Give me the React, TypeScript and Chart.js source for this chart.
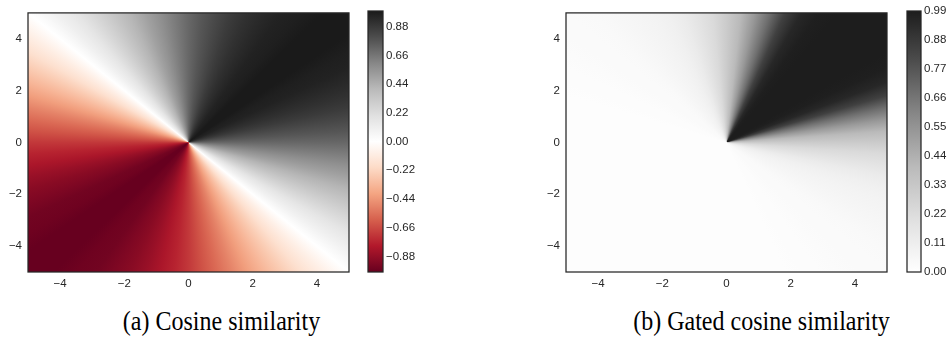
import React, { useEffect, useRef } from "react";
import { Chart, registerables } from "chart.js";

Chart.register(...registerables);

// ---- data ----
// direction of the input vector, degrees counter-clockwise from +x
const ANGLES_DEG = [
  0, 5, 10, 15, 20, 25, 30, 35, 40, 45, 50, 55, 60, 65, 70, 75, 80, 85,
  90, 95, 100, 105, 110, 115, 120, 125, 130, 135, 140, 145, 150, 155, 160, 165, 170, 175,
  180, 185, 190, 195, 200, 205, 210, 215, 220, 225, 230, 235, 240, 245, 250, 255, 260, 265,
  270, 275, 280, 285, 290, 295, 300, 305, 310, 315, 320, 325, 330, 335, 340, 345, 350, 355,
];
// (a) cosine similarity with the (1,1) direction
const COSINE_VALUES = [
  0.71, 0.77, 0.82, 0.87, 0.91, 0.94, 0.97, 0.98, 1.0, 1.0, 1.0, 0.98, 0.97, 0.94, 0.91, 0.87, 0.82, 0.77,
  0.71, 0.64, 0.57, 0.5, 0.42, 0.34, 0.26, 0.17, 0.09, 0.0, -0.09, -0.17, -0.26, -0.34, -0.42, -0.5, -0.57, -0.64,
  -0.71, -0.77, -0.82, -0.87, -0.91, -0.94, -0.97, -0.98, -1.0, -1.0, -1.0, -0.98, -0.97, -0.94, -0.91, -0.87, -0.82, -0.77,
  -0.71, -0.64, -0.57, -0.5, -0.42, -0.34, -0.26, -0.17, -0.09, 0.0, 0.09, 0.17, 0.26, 0.34, 0.42, 0.5, 0.57, 0.64,
];
// (b) gated cosine similarity
const GATED_VALUES = [
  0.31, 0.4, 0.53, 0.68, 0.85, 0.95, 0.98, 0.99, 0.99, 0.99, 0.99, 0.99, 0.98, 0.95, 0.85, 0.68, 0.53, 0.4,
  0.31, 0.23, 0.18, 0.13, 0.1, 0.08, 0.065, 0.05, 0.04, 0.035, 0.03, 0.025, 0.02, 0.02, 0.015, 0.015, 0.01, 0.01,
  0.01, 0.01, 0.01, 0.01, 0.01, 0.01, 0.01, 0.01, 0.01, 0.01, 0.01, 0.01, 0.01, 0.01, 0.01, 0.01, 0.01, 0.01,
  0.01, 0.01, 0.01, 0.015, 0.015, 0.02, 0.02, 0.025, 0.03, 0.035, 0.04, 0.05, 0.065, 0.08, 0.1, 0.13, 0.18, 0.23,
];
const AXIS_RANGE = [-5, 5];
const AXIS_TICKS = [-4, -2, 0, 2, 4];
const COSINE_CBAR_RANGE = [-1, 1];
const COSINE_CBAR_TICKS = [-0.88, -0.66, -0.44, -0.22, 0.0, 0.22, 0.44, 0.66, 0.88];
const GATED_CBAR_RANGE = [0, 0.99];
const GATED_CBAR_TICKS = [0.0, 0.11, 0.22, 0.33, 0.44, 0.55, 0.66, 0.77, 0.88, 0.99];
const CAPTIONS = ["(a) Cosine similarity", "(b) Gated cosine similarity"];

// ---- styling ----
const RDGY = ["#67001f", "#b2182b", "#d6604d", "#f4a582", "#fddbc7", "#ffffff", "#e0e0e0", "#bababa", "#878787", "#4d4d4d", "#1a1a1a"];
const TEXT_COLOR = "#262626";
const EDGE_COLOR = "#262626";
const TICK_FONT = { family: "'Liberation Sans', Arial, sans-serif", size: 11.5 };

function hexToRgb(h: string) {
  return [parseInt(h.slice(1, 3), 16), parseInt(h.slice(3, 5), 16), parseInt(h.slice(5, 7), 16)];
}
const RDGY_RGB = RDGY.map(hexToRgb);
function cmap(v: number) {
  const t = Math.min(1, Math.max(0, (v + 1) / 2)) * (RDGY_RGB.length - 1);
  const i = Math.min(RDGY_RGB.length - 2, Math.floor(t));
  const f = t - i;
  const a = RDGY_RGB[i], b = RDGY_RGB[i + 1];
  const c = a.map((av, k) => Math.round(av + (b[k] - av) * f));
  return `rgb(${c[0]},${c[1]},${c[2]})`;
}
const minus = (s: string) => s.replace("-", "\u2212");

const framePlugin = {
  id: "frame",
  afterDraw(chart: any) {
    const { ctx, chartArea: a } = chart;
    ctx.save();
    ctx.strokeStyle = EDGE_COLOR;
    ctx.lineWidth = 1.25;
    ctx.strokeRect(a.left, a.top, a.width, a.height);
    ctx.restore();
  },
};

const angularFieldPlugin = {
  id: "angularField",
  beforeDatasetsDraw(chart: any, _args: any, opts: any) {
    const { ctx, chartArea: a, scales } = chart;
    const xs = scales.x, ys = scales.y;
    const x0 = xs.getPixelForValue(0), y0 = ys.getPixelForValue(0);
    const g = ctx.createConicGradient(0, x0, y0);
    const angles: number[] = opts.angles;
    const values: number[] = opts.values;
    angles.forEach((deg, i) => {
      const t = (deg * Math.PI) / 180;
      const px = xs.getPixelForValue(Math.cos(t)) - x0;
      const py = ys.getPixelForValue(Math.sin(t)) - y0;
      let phi = Math.atan2(py, px);
      if (phi < 0) phi += 2 * Math.PI;
      const col = cmap(values[i]);
      g.addColorStop(Math.min(1, Math.max(0, phi / (2 * Math.PI))), col);
      if (deg === 0) g.addColorStop(1, col);
    });
    ctx.save();
    ctx.fillStyle = g;
    ctx.fillRect(a.left, a.top, a.width, a.height);
    ctx.restore();
  },
};

const colorbarPlugin = {
  id: "colorbar",
  beforeDatasetsDraw(chart: any, _args: any, opts: any) {
    const { ctx, chartArea: a, scales } = chart;
    const ys = scales.y;
    const [lo, hi] = opts.range;
    const yb = ys.getPixelForValue(lo), yt = ys.getPixelForValue(hi);
    const g = ctx.createLinearGradient(0, yb, 0, yt);
    g.addColorStop(0, cmap(lo));
    RDGY.forEach((_c, i) => {
      const v = -1 + (2 * i) / (RDGY.length - 1);
      if (v > lo && v < hi) g.addColorStop((v - lo) / (hi - lo), cmap(v));
    });
    g.addColorStop(1, cmap(hi));
    ctx.save();
    ctx.fillStyle = g;
    ctx.fillRect(a.left, yt, a.width, yb - yt);
    ctx.restore();
  },
};

function makeFieldConfig(values: number[], yWidth: number, padRight: number) {
  return {
    type: "scatter",
    data: { datasets: [{ data: [] as any[] }] },
    options: {
      animation: false,
      responsive: false,
      events: [],
      layout: { padding: { top: 11, right: padRight, bottom: 0, left: 0 } },
      plugins: {
        legend: { display: false },
        tooltip: { enabled: false },
        angularField: { angles: ANGLES_DEG, values },
      },
      scales: {
        x: {
          type: "linear",
          min: AXIS_RANGE[0],
          max: AXIS_RANGE[1],
          grid: { display: false, drawTicks: false },
          border: { display: false },
          afterBuildTicks: (s: any) => { s.ticks = AXIS_TICKS.map((v) => ({ value: v })); },
          afterFit: (s: any) => { s.height = 18; },
          ticks: {
            autoSkip: false,
            maxRotation: 0,
            padding: 5,
            color: TEXT_COLOR,
            font: TICK_FONT,
            callback: (v: number) => minus(String(v)),
          },
        },
        y: {
          type: "linear",
          min: AXIS_RANGE[0],
          max: AXIS_RANGE[1],
          grid: { display: false, drawTicks: false },
          border: { display: false },
          afterBuildTicks: (s: any) => { s.ticks = AXIS_TICKS.map((v) => ({ value: v })); },
          afterFit: (s: any) => { s.width = yWidth; },
          ticks: {
            autoSkip: false,
            padding: 6,
            color: TEXT_COLOR,
            font: TICK_FONT,
            callback: (v: number) => minus(String(v)),
          },
        },
      },
    },
    plugins: [angularFieldPlugin, framePlugin],
  };
}

function makeColorbarConfig(range: number[], ticks: number[], padLeft: number, yWidth: number) {
  return {
    type: "scatter",
    data: { datasets: [{ data: [] as any[] }] },
    options: {
      animation: false,
      responsive: false,
      events: [],
      layout: { padding: { top: 11, right: 0, bottom: 18, left: padLeft } },
      plugins: {
        legend: { display: false },
        tooltip: { enabled: false },
        colorbar: { range },
      },
      scales: {
        x: { type: "linear", display: false, min: 0, max: 1 },
        y: {
          type: "linear",
          position: "right",
          min: range[0],
          max: range[1],
          grid: { display: false, drawTicks: false },
          border: { display: false },
          afterBuildTicks: (s: any) => { s.ticks = ticks.map((v) => ({ value: v })); },
          afterFit: (s: any) => { s.width = yWidth; },
          ticks: {
            autoSkip: false,
            padding: 3,
            color: TEXT_COLOR,
            font: TICK_FONT,
            callback: (v: number) => minus(v.toFixed(2)),
          },
        },
      },
    },
    plugins: [colorbarPlugin, framePlugin],
  };
}

function ChartCanvas({ config, left, width, height }: any) {
  const ref = useRef<HTMLCanvasElement | null>(null);
  useEffect(() => {
    if (!ref.current) return;
    const chart = new Chart(ref.current, config as any);
    return () => chart.destroy();
  }, []);
  return (
    <canvas
      ref={ref}
      width={width}
      height={height}
      style={{ position: "absolute", left, top: 0, width, height }}
    />
  );
}

export default function App() {
  const captionStyle = (cx: number): React.CSSProperties => ({
    position: "absolute",
    left: cx - 250,
    width: 500,
    top: 307,
    textAlign: "center",
    fontFamily: "'Liberation Serif', 'Times New Roman', serif",
    fontSize: 24,
    color: "#000",
    whiteSpace: "nowrap",
    lineHeight: "28px",
    transform: "scaleY(1.1)",
    transformOrigin: "50% 50%",
  });
  return (
    <div style={{ position: "fixed", left: 0, top: 0, width: 951, height: 355, background: "#fff", overflow: "hidden" }}>
      <ChartCanvas config={makeFieldConfig(COSINE_VALUES, 28, 11)} left={0} width={360} height={290} />
      <ChartCanvas config={makeColorbarConfig(COSINE_CBAR_RANGE, COSINE_CBAR_TICKS, 8, 37)} left={360} width={60} height={290} />
      <ChartCanvas config={makeFieldConfig(GATED_VALUES, 36, 3)} left={530} width={360} height={290} />
      <ChartCanvas config={makeColorbarConfig(GATED_CBAR_RANGE, GATED_CBAR_TICKS, 12, 30)} left={895} width={56} height={290} />
      <div style={captionStyle(221.5)}>{CAPTIONS[0]}</div>
      <div style={captionStyle(761.5)}>{CAPTIONS[1]}</div>
    </div>
  );
}
